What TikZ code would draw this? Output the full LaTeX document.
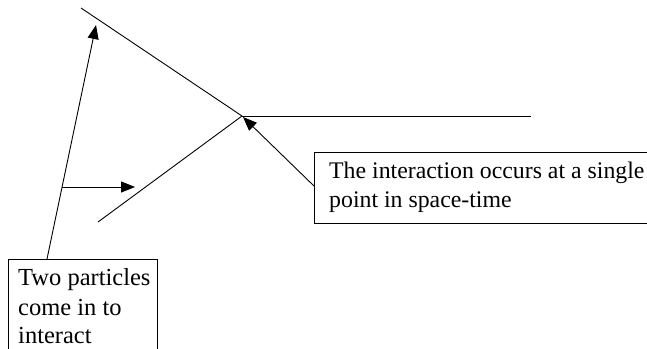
\documentclass[tikz,border=0pt]{standalone}
\usepackage{fontspec}
\setmainfont{Liberation Serif}
\usetikzlibrary{arrows.meta}
\begin{document}
\begin{tikzpicture}[x=1pt,y=-1pt,
  world/.style={line width=0.9pt},
  pointer/.style={line width=0.9pt,-{Triangle[length=14pt,width=11pt]}},
  frame/.style={draw,line width=0.9pt,inner sep=0pt,anchor=north west},
  label/.style={anchor=base west,inner sep=0pt,font=\fontsize{24.5}{29}\selectfont},
  tight/.style={font=\fontsize{23.8}{29}\selectfont}]
\useasboundingbox (0,0) rectangle (647,348);
\clip (0,0) rectangle (647,348);
% interaction vertex and the three world lines
\coordinate (v) at (242,116);
\coordinate (inA) at (98,222);
\coordinate (outA) at (81,8);
\coordinate (outB) at (531,116);
\draw[world] (inA) -- (v);
\draw[world] (outA) -- (v);
\draw[world] (v) -- (outB);
% caption boxes
\node[frame,minimum width=149pt,minimum height=110pt] (boxL) at (8,259) {};
\node[label] (tL1) at (18,285) {Two particles};
\node[label] (tL2) at (18,315) {come in to};
\node[label] (tL3) at (18,343) {interact};
\node[frame,minimum width=350pt,minimum height=71pt] (boxR) at (314,152) {};
\node[label,tight] (tR1) at (329,178) {The interaction occurs at a single};
\node[label,tight] (tR2) at (329,207) {point in space-time};
% pointers
\coordinate (pA0) at (47,259);
\coordinate (pA1) at (96,25);
\coordinate (pB0) at (62,187);
\coordinate (pB1) at (135,187);
\coordinate (pC0) at (314,186);
\coordinate (pC1) at (243,117);
\draw[pointer] (pA0) -- (pA1);
\draw[pointer] (pB0) -- (pB1);
\draw[pointer] (pC0) -- (pC1);
\end{tikzpicture}
\end{document}
